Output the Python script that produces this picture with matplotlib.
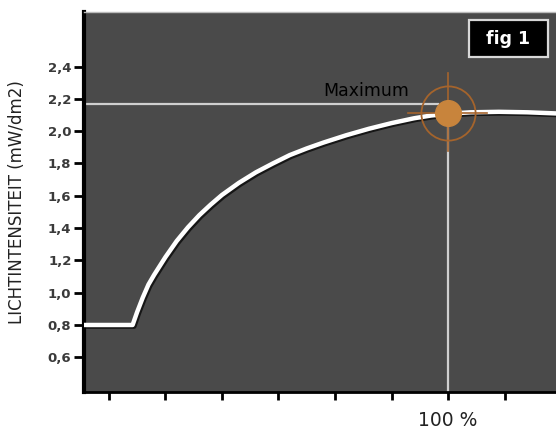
import matplotlib.pyplot as plt
import matplotlib.patheffects as pe
from matplotlib.patches import Rectangle

# light intensity curve (x in % of reference, y in mW/dm2)
x_pct = [35.6, 44.2, 45.0, 46.0, 47.0, 48.0, 50.0, 52.0, 54.0, 56.0, 58.0, 60.0,
         63.0, 66.0, 69.0, 72.0, 75.0, 78.0, 82.0, 86.0, 90.0, 94.0, 97.0,
         100.0, 104.0, 109.0, 114.0, 119.1]
light = [0.80, 0.80, 0.88, 0.97, 1.05, 1.11, 1.22, 1.32, 1.405, 1.48, 1.545, 1.605,
         1.68, 1.745, 1.80, 1.852, 1.893, 1.93, 1.975, 2.015, 2.05, 2.08, 2.097,
         2.108, 2.117, 2.12, 2.117, 2.11]

max_x = 100.0
max_y = 2.11
max_line_y = 2.17

y_ticks = [0.6, 0.8, 1.0, 1.2, 1.4, 1.6, 1.8, 2.0, 2.2, 2.4]
y_labels = ['0,6', '0,8', '1,0', '1,2', '1,4', '1,6', '1,8', '2,0', '2,2', '2,4']
x_ticks = [40, 50, 60, 70, 80, 90, 100, 110]
x_labels = ['', '', '', '', '', '', '100 %', '']

plt.rcParams['font.family'] = ['DejaVu Sans']

fig = plt.figure(figsize=(5.56, 4.30), dpi=100)
ax = fig.add_axes([84 / 556, 38 / 430, 1 - 84 / 556, 380 / 430])
ax.set_facecolor('#4a4a4a')
ax.set_xlim(35.6, 119.1)
ax.set_ylim(0.385, 2.738)

# reference lines to the maximum
ax.plot([35.6, max_x - 1.7], [max_line_y, max_line_y], color='#cfcfcf', lw=1.6, zorder=2)
ax.plot([max_x, max_x], [0.385, max_y], color='#cfcfcf', lw=1.6, zorder=2)

# main curve with drop shadow
ax.plot(x_pct, light, color='white', lw=3.2, solid_joinstyle='round', zorder=3,
        path_effects=[pe.SimpleLineShadow(offset=(1.2, -1.2), shadow_color='black', alpha=0.7),
                      pe.Normal()])

# crosshair marker at the maximum
ring_c = '#a5642c'
ax.plot([max_x, max_x], [max_y - 0.23, max_y + 0.25], color=ring_c, lw=1.2, zorder=4)
ax.plot([max_x - 7.1, max_x + 6.9], [max_y, max_y], color=ring_c, lw=1.2, zorder=4)
ax.plot(max_x, max_y, 'o', ms=39, mfc='none', mec=ring_c, mew=1.3, zorder=4)
ax.plot(max_x, max_y, 'o', ms=18.5, mfc='#c8843c', mec='#c8843c', zorder=5)

ax.text(85.5, 2.25, 'Maximum', fontsize=12.5, color='black', ha='center', va='center')

# "fig 1" label box
ax.add_patch(Rectangle((0.8157, 0.8816), 0.1674, 0.0974, transform=ax.transAxes,
                       fc='black', ec='#d8d8d8', lw=1.6, zorder=6))
ax.text(0.8994, 0.929, 'fig 1', transform=ax.transAxes, fontsize=12.5, fontweight='bold',
        color='white', ha='center', va='center', zorder=7)

ax.set_yticks(y_ticks)
ax.set_yticklabels(y_labels, fontsize=9.5, fontweight='bold', color='#3a3a3a')
ax.set_xticks(x_ticks)
ax.set_xticklabels(x_labels, fontsize=13.5, color='#222222')
ax.tick_params(axis='y', length=7, width=2, color='black', pad=2)
ax.tick_params(axis='x', length=6, width=2, color='black', pad=8)

ax.set_ylabel('LICHTINTENSITEIT (mW/dm2)', fontsize=12, color='#222222')
ax.yaxis.set_label_coords(-0.122, 0.5)

ax.spines['left'].set_linewidth(3)
ax.spines['left'].set_color('black')
ax.spines['bottom'].set_linewidth(2)
ax.spines['bottom'].set_color('black')
ax.spines['top'].set_color('#bbbbbb')
ax.spines['top'].set_linewidth(1)
ax.spines['right'].set_visible(False)

fig.savefig('out.png', dpi=100)
